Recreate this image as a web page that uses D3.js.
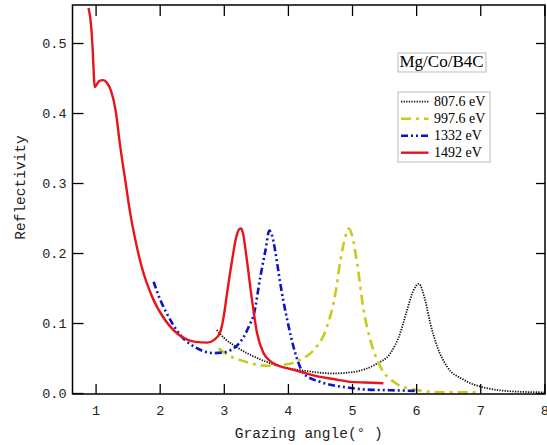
<!DOCTYPE html>
<html><head><meta charset="utf-8">
<script src="https://cdn.jsdelivr.net/npm/d3@7"></script>
<style>body{margin:0;background:#fff}svg{display:block}</style>
</head><body>
<script>
const xTicks = [1,2,3,4,5,6,7,8];
const yTicks = [0,0.1,0.2,0.3,0.4,0.5];
const seriesNames = ["807.6 eV","997.6 eV","1332 eV","1492 eV"];
const s807 = [[2.89,0.09],[3.0,0.079],[3.21,0.065],[3.52,0.050],[3.88,0.038],[4.245,0.032],[4.71,0.028],[5.02,0.030],[5.2,0.034],[5.39,0.042],[5.6,0.057],[5.75,0.085],[5.86,0.119],[5.96,0.147],[6.04,0.156],[6.14,0.133],[6.22,0.10],[6.33,0.066],[6.48,0.038],[6.74,0.019],[7.1,0.007],[7.57,0.002],[8.0,0.001]];
const s997 = [[2.92,0.064],[3.05,0.055],[3.26,0.047],[3.67,0.039],[3.99,0.041],[4.2,0.048],[4.40,0.061],[4.61,0.095],[4.74,0.142],[4.82,0.19],[4.895,0.223],[4.95,0.235],[5.0,0.225],[5.08,0.185],[5.18,0.119],[5.285,0.076],[5.44,0.038],[5.65,0.016],[5.96,0.005],[6.43,0.001],[7.0,0.001]];
const s1332 = [[1.905,0.159],[2.0,0.135],[2.11,0.114],[2.32,0.083],[2.58,0.064],[2.84,0.057],[3.0,0.058],[3.10,0.061],[3.22,0.069],[3.31,0.080],[3.40,0.097],[3.465,0.111],[3.57,0.166],[3.65,0.204],[3.71,0.232],[3.75,0.226],[3.80,0.204],[3.88,0.157],[3.99,0.104],[4.115,0.057],[4.245,0.028],[4.5,0.016],[4.7,0.011],[4.92,0.008],[5.2,0.005],[5.6,0.004],[5.99,0.003]];
const s1492 = [[0.89,0.55],[0.93,0.525],[0.955,0.49],[0.97,0.46],[0.985,0.437],[1.02,0.441],[1.06,0.446],[1.115,0.447],[1.18,0.443],[1.24,0.432],[1.31,0.405],[1.385,0.352],[1.463,0.304],[1.54,0.257],[1.62,0.219],[1.72,0.180],[1.88,0.138],[2.087,0.104],[2.35,0.080],[2.55,0.073],[2.74,0.072],[2.85,0.076],[2.94,0.086],[3.0,0.11],[3.05,0.142],[3.13,0.19],[3.195,0.223],[3.24,0.234],[3.27,0.235],[3.30,0.228],[3.36,0.19],[3.44,0.133],[3.52,0.085],[3.62,0.057],[3.72,0.046],[3.83,0.04],[4.09,0.033],[4.5,0.023],[4.71,0.020],[4.97,0.016],[5.2,0.015],[5.49,0.014]];

const W=547,H=445;
const L=72.5,R=545,T=5,B=394;
const svg=d3.select("body").append("svg").attr("width",W).attr("height",H);
const x=d3.scaleLinear().domain([0.64,8.01]).range([L,R]);
const y=d3.scaleLinear().domain([-0.0014,0.5543]).range([B,T]);
const mono="'Liberation Mono', monospace";
const serif="'Liberation Serif', 'Times New Roman', serif";

const series=[
 {name:seriesNames[0],data:s807,color:"#111",w:1.8,dash:"1.3,1.3"},
 {name:seriesNames[1],data:s997,color:"#c9c91c",w:2.6,dash:"10,5,3,5"},
 {name:seriesNames[2],data:s1332,color:"#0a14c8",w:2.6,dash:"7,3,2,3,2,3"},
 {name:seriesNames[3],data:s1492,color:"#e8141b",w:2.4,dash:null}
];
const line=d3.line().x(d=>x(d[0])).y(d=>y(d[1])).curve(d3.curveMonotoneX);
const g=svg.append("g");
g.append("defs").append("clipPath").attr("id","c").append("rect").attr("x",L).attr("y",T).attr("width",R-L).attr("height",B-T);
series.forEach(s=>{
  g.append("path").datum(s.data).attr("d",line).attr("fill","none")
   .attr("stroke",s.color).attr("stroke-width",s.w).attr("stroke-dasharray",s.dash)
   .attr("clip-path","url(#c)");
});

// axes
const ax=svg.append("g");
function styleAxis(sel){sel.select(".domain").remove();sel.selectAll("line").attr("stroke","#000").attr("stroke-width",1.3);sel.selectAll("text").attr("font-family",mono).attr("font-size","13.5px").attr("fill","#222");}
ax.append("g").attr("transform",`translate(0,${B})`).call(d3.axisBottom(x).tickValues(xTicks).tickSize(-10).tickPadding(11).tickFormat(d3.format("d"))).call(styleAxis);
ax.append("g").attr("transform",`translate(0,${T})`).call(d3.axisTop(x).tickValues(xTicks).tickSize(-11).tickFormat("")).call(styleAxis);
ax.append("g").attr("transform",`translate(${L},0)`).call(d3.axisLeft(y).tickValues(yTicks).tickSize(-11).tickPadding(6).tickFormat(d3.format(".1f"))).call(styleAxis);
ax.append("g").attr("transform",`translate(${R},0)`).call(d3.axisRight(y).tickValues(yTicks).tickSize(-9).tickFormat("")).call(styleAxis);
svg.append("rect").attr("x",L).attr("y",T).attr("width",R-L).attr("height",B-T).attr("fill","none").attr("stroke","#000").attr("stroke-width",1.5);

svg.append("text").attr("x",(L+R)/2).attr("y",438).attr("text-anchor","middle")
  .attr("font-family",mono).attr("font-size","14.5px").attr("fill","#222").text("Grazing angle(° )");
svg.append("text").attr("transform","translate(25,187.5) rotate(-90)").attr("text-anchor","middle")
  .attr("font-family",mono).attr("font-size","14.5px").attr("fill","#222").text("Reflectivity");

// title box
svg.append("rect").attr("x",398).attr("y",53).attr("width",88).attr("height",19).attr("fill","#fff").attr("stroke","#bbb").attr("stroke-width",1);
svg.append("text").attr("x",399.5).attr("y",67.3).attr("font-family",serif).attr("font-size","17px").attr("fill","#000").text("Mg/Co/B4C");

// legend
const lg=svg.append("g");
lg.append("rect").attr("x",398).attr("y",92).attr("width",92).attr("height",70).attr("fill","#fff").attr("stroke","#bbb").attr("stroke-width",1);
series.forEach((s,i)=>{
  const by=105.7+i*17;
  lg.append("line").attr("x1",401).attr("x2",428.5).attr("y1",by-4).attr("y2",by-4)
    .attr("stroke",s.color).attr("stroke-width",s.w).attr("stroke-dasharray",s.dash);
  lg.append("text").attr("x",434).attr("y",by).attr("font-family",serif).attr("font-size","14px").attr("fill","#000").text(s.name);
});
</script>
</body></html>
